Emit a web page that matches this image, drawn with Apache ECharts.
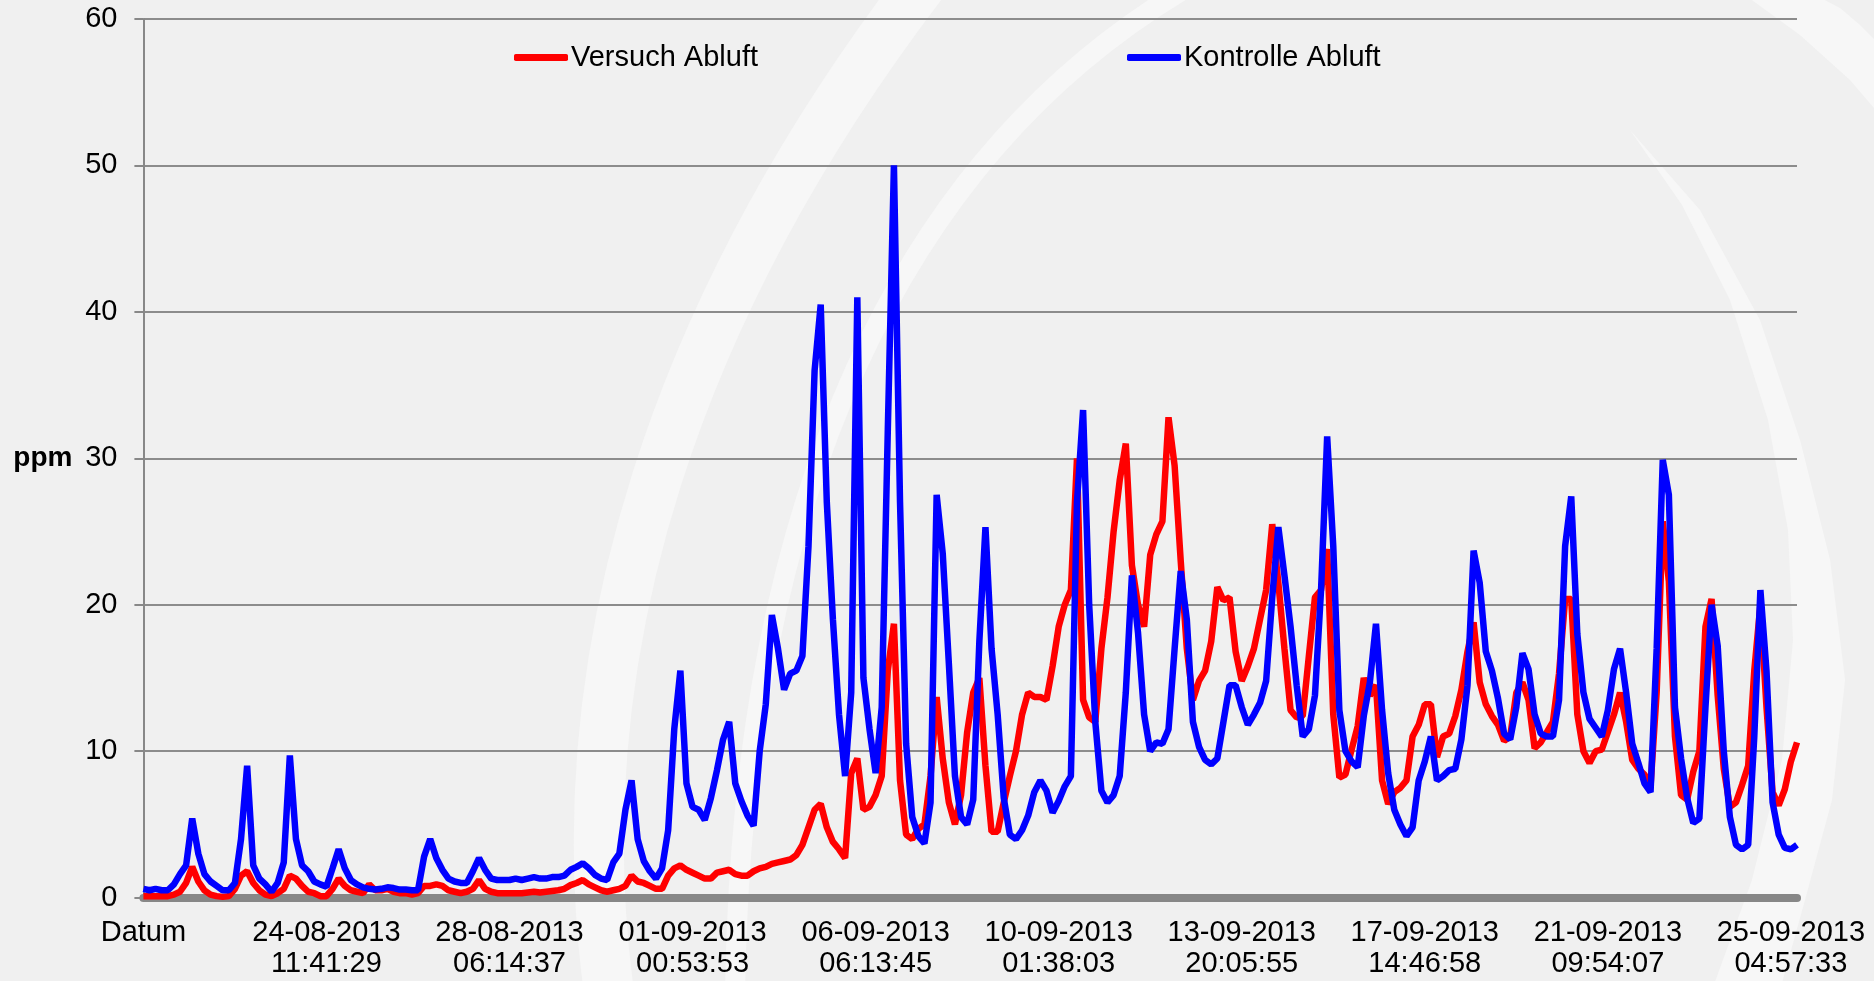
<!DOCTYPE html>
<html>
<head>
<meta charset="utf-8">
<script src="https://cdn.jsdelivr.net/npm/echarts@6/dist/echarts.min.js"></script>
<style>
html,body{margin:0;padding:0;background:#f0f0f0;}
#c{width:1874px;height:981px;}
</style>
</head>
<body>
<div id="c"></div>
<script>
// tick labels every 30 samples
const tickLabels = ['Datum','24-08-2013\n11:41:29','28-08-2013\n06:14:37','01-09-2013\n00:53:53','06-09-2013\n06:13:45','10-09-2013\n01:38:03','13-09-2013\n20:05:55','17-09-2013\n14:46:58','21-09-2013\n09:54:07','25-09-2013\n04:57:33'];
const labelStep = 30;
const seriesNames = ['Versuch Abluft','Kontrolle Abluft'];

const versuch = [
0.1,0.1,0.1,0.1,0.1,0.2,0.4,1.0,2.1,1.1,
0.5,0.2,0.1,0.05,0.1,0.6,1.5,1.8,1.0,0.5,
0.2,0.1,0.3,0.6,1.5,1.3,0.8,0.4,0.3,0.1,
0.1,0.6,1.3,0.8,0.5,0.4,0.3,0.9,0.5,0.5,
0.6,0.4,0.3,0.3,0.2,0.3,0.8,0.8,0.9,0.8,
0.5,0.4,0.3,0.4,0.6,1.2,0.6,0.4,0.3,0.3,
0.3,0.3,0.3,0.35,0.4,0.35,0.4,0.45,0.5,0.6,
0.85,1.0,1.2,0.9,0.7,0.5,0.4,0.5,0.6,0.8,
1.5,1.1,1.0,0.8,0.6,0.6,1.5,2.0,2.2,1.9,
1.7,1.5,1.3,1.3,1.7,1.8,1.9,1.6,1.5,1.5,
1.8,2.0,2.1,2.3,2.4,2.5,2.6,2.9,3.6,4.8,
6.0,6.4,4.8,3.8,3.3,2.7,8.5,9.5,6.0,6.2,
7.0,8.3,15.5,18.7,8.0,4.3,4.0,4.7,5.0,8.3,
13.7,9.5,6.5,5.0,7.0,11.3,14.0,15.0,9.0,4.5,
4.5,6.5,8.3,10.0,12.5,14.0,13.7,13.7,13.5,15.8,
18.5,20.0,21.0,30.0,13.5,12.3,12.0,17.0,20.5,25.0,
28.5,31.0,22.7,20.0,18.5,23.4,24.8,25.7,32.8,29.5,
23.0,17.0,13.5,14.8,15.5,17.5,21.2,20.3,20.5,16.8,
14.8,15.8,17.0,19.0,21.0,25.5,21.5,17.0,12.8,12.3,
12.4,16.5,20.5,21.0,23.8,12.5,8.2,8.4,10.1,11.7,
15.0,13.8,14.5,8.0,6.4,7.2,7.5,8.0,11.0,11.8,
13.2,13.2,9.6,11.0,11.2,12.4,14.2,16.8,18.8,14.7,
13.2,12.4,11.8,10.7,11.0,14.0,14.7,13.5,10.2,10.6,
11.3,12.0,15.3,20.4,20.4,12.5,10.0,9.2,10.0,10.1,
11.3,12.5,14.0,12.0,9.4,8.8,8.4,7.6,14.0,25.7,
21.6,11.0,7.0,6.7,8.6,10.0,18.5,20.4,13.8,8.8,
6.2,6.5,7.7,9.0,15.5,20.0,13.0,7.2,6.3,7.4,
9.3,10.6
];

const kontrolle = [
0.6,0.5,0.6,0.5,0.5,0.9,1.6,2.2,5.4,3.0,
1.6,1.1,0.8,0.5,0.5,1.0,4.0,9.0,2.2,1.3,
0.9,0.4,1.0,2.4,9.7,4.0,2.2,1.8,1.1,0.9,
0.75,2.0,3.3,2.0,1.2,0.9,0.7,0.6,0.55,0.6,
0.7,0.65,0.55,0.55,0.5,0.5,2.8,4.0,2.7,1.9,
1.3,1.1,1.0,1.0,1.8,2.7,1.9,1.3,1.2,1.2,
1.2,1.3,1.2,1.3,1.4,1.3,1.3,1.4,1.4,1.5,
1.9,2.1,2.35,2.0,1.55,1.3,1.2,2.4,3.0,6.0,
8.0,4.0,2.5,1.8,1.3,2.0,4.6,11.5,15.5,7.8,
6.2,6.0,5.3,6.8,8.7,10.8,12.0,7.8,6.6,5.6,
4.9,10.0,13.2,19.3,17.0,14.2,15.3,15.5,16.5,24.0,
36.0,40.5,27.0,19.0,12.5,8.3,14.0,41.0,15.0,11.5,
8.5,13.0,32.0,50.0,27.0,10.5,5.5,4.2,3.7,6.5,
27.5,23.5,16.0,8.3,5.5,5.0,6.7,17.5,25.3,17.0,
12.5,6.8,4.3,4.0,4.6,5.6,7.2,8.0,7.3,5.8,
6.6,7.6,8.3,27.0,33.3,20.0,12.0,7.3,6.5,7.0,
8.3,14.0,22.0,18.1,12.5,10.0,10.6,10.5,11.5,17.0,
22.3,19.0,12.0,10.3,9.4,9.1,9.5,12.0,14.5,14.5,
13.0,11.8,12.5,13.3,14.8,20.5,25.3,22.0,18.5,14.5,
11.0,11.5,13.8,21.0,31.5,24.0,12.8,10.0,9.3,8.9,
12.4,14.7,18.7,12.8,8.5,6.0,5.0,4.2,4.8,8.0,
9.3,11.0,8.0,8.3,8.7,8.8,10.8,14.5,23.7,21.5,
16.8,15.5,13.6,11.2,10.8,13.0,16.7,15.6,12.5,11.2,
11.0,11.0,13.5,24.0,27.4,18.0,14.0,12.2,11.6,11.0,
12.8,15.6,17.0,14.0,10.5,9.2,7.8,7.2,17.0,29.9,
27.5,13.0,9.5,6.8,5.1,5.4,13.0,20.0,17.2,10.0,
5.5,3.6,3.3,3.6,11.0,21.0,15.5,6.5,4.3,3.4,
3.3,3.6
];

const categories = versuch.map((v, i) => (i % labelStep === 0 && tickLabels[i / labelStep] !== undefined) ? tickLabels[i / labelStep] : ' ');

const FONT = "'Liberation Sans', Arial, sans-serif";
const chart = echarts.init(document.getElementById('c'), null, {renderer: 'canvas'});
const wm = '#f7f7f7';
chart.setOption({
  backgroundColor: '#f0f0f0',
  animation: false,
  graphic: [
    {type: 'bezierCurve', z: -10, silent: true,
     shape: {x1: 925, y1: -20, cpx1: 680, cpy1: 300, cpx2: 560, cpy2: 650, x2: 610, y2: 1000},
     style: {stroke: wm, lineWidth: 50, fill: null}},
    {type: 'bezierCurve', z: -10, silent: true,
     shape: {x1: 1200, y1: -20, cpx1: 900, cpy1: 150, cpx2: 740, cpy2: 500, x2: 735, y2: 1000},
     style: {stroke: wm, lineWidth: 20, fill: null}},
    {type: 'polygon', z: -10, silent: true,
     shape: {points: [[1630,130],[1700,210],[1760,320],[1800,440],[1830,560],[1845,680],[1832,800],[1805,900],[1780,990],
                      [1712,990],[1752,880],[1782,760],[1793,640],[1788,530],[1768,420],[1730,300],[1682,205]]},
     style: {fill: wm}},
    {type: 'polygon', z: -10, silent: true,
     shape: {points: [[1745,-5],[1800,35],[1850,80],[1880,115],[1880,45],[1860,25],[1840,8],[1815,-5]]},
     style: {fill: wm}}
  ],
  grid: {left: 143.4, right: 77, top: 19, bottom: 83.4, containLabel: false},
  legend: [
    {data: [seriesNames[0]], left: 514, top: 43, padding: 0, icon: 'roundRect', itemWidth: 54, itemHeight: 7, itemGap: 0,
     textStyle: {fontFamily: FONT, fontSize: 29, color: '#000', padding: [0,0,0,-2]}},
    {data: [seriesNames[1]], left: 1127, top: 43, padding: 0, icon: 'roundRect', itemWidth: 54, itemHeight: 7, itemGap: 0,
     textStyle: {fontFamily: FONT, fontSize: 29, color: '#000', padding: [0,0,0,-2]}}
  ],
  xAxis: {
    type: 'category', data: categories, boundaryGap: false, offset: 4,
    axisLine: {lineStyle: {color: '#878787', width: 8}},
    axisTick: {show: false},
    splitLine: {show: false},
    axisLabel: {interval: 0, margin: 16, fontFamily: FONT, fontSize: 29, color: '#000', lineHeight: 31, align: 'center'}
  },
  yAxis: {
    type: 'value', min: 0, max: 60, interval: 10,
    name: 'ppm', nameLocation: 'middle', nameRotate: 0, nameGap: 71,
    nameTextStyle: {fontFamily: FONT, fontSize: 28, fontWeight: 'bold', color: '#000'},
    axisLine: {show: true, lineStyle: {color: '#888', width: 2}},
    axisTick: {show: true, length: 9, lineStyle: {color: '#888', width: 2}},
    splitLine: {lineStyle: {color: '#8c8c8c', width: 2}},
    axisLabel: {margin: 26, fontFamily: FONT, fontSize: 29, color: '#000'}
  },
  series: [
    {name: seriesNames[0], type: 'line', data: versuch, showSymbol: false, symbol: 'none',
     color: '#ff0000', lineStyle: {color: '#ff0000', width: 6.5}, z: 2},
    {name: seriesNames[1], type: 'line', data: kontrolle, showSymbol: false, symbol: 'none',
     color: '#0000ff', lineStyle: {color: '#0000ff', width: 6.5}, z: 3}
  ]
});
</script>
</body>
</html>
